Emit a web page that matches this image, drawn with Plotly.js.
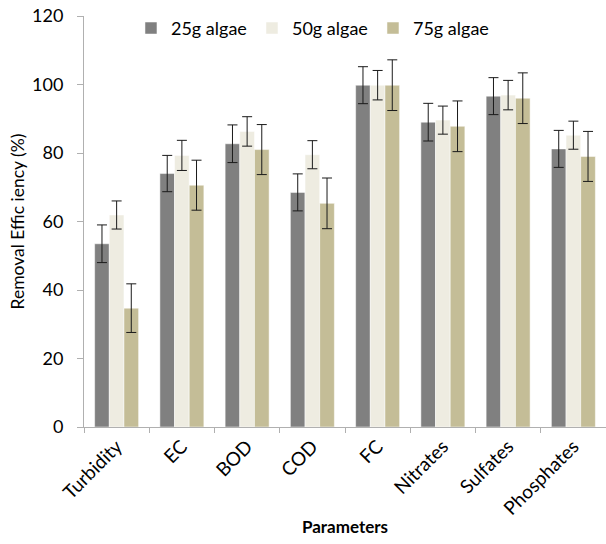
<!DOCTYPE html>
<html>
<head>
<meta charset="utf-8">
<script src="https://cdn.plot.ly/plotly-3.0.1.min.js"></script>
<style>html,body{margin:0;padding:0;background:#fff;}#chart{width:606px;height:544px;}</style>
</head>
<body>
<div id="chart"></div>
<script>
const categories = ["Turbidity", "EC", "BOD", "COD", "FC", "Nitrates", "Sulfates", "Phosphates"];
const seriesNames = ["25g algae", "50g algae", "75g algae"];
const algae25 = [53.5, 74.0, 82.7, 68.5, 99.8, 89.0, 96.6, 81.2];
const algae25Err = [5.5, 5.3, 5.5, 5.4, 5.4, 5.5, 5.4, 5.4];
const algae50 = [61.9, 79.3, 86.3, 79.5, 99.8, 89.6, 96.9, 85.2];
const algae50Err = [4.1, 4.4, 4.3, 4.1, 4.3, 4.1, 4.3, 4.1];
const algae75 = [34.7, 70.6, 81.0, 65.3, 99.8, 87.8, 96.0, 79.0];
const algae75Err = [7.1, 7.3, 7.3, 7.4, 7.4, 7.4, 7.4, 7.3];
const yTicks = [0, 20, 40, 60, 80, 100, 120];

const colors = ["#808080", "#EEECE1", "#C4BD97"];
const vals = [algae25, algae50, algae75];
const errs = [algae25Err, algae50Err, algae75Err];
const font = "Lato, 'Open Sans', sans-serif";

const traces = seriesNames.map((n, i) => ({
  type: "bar",
  name: n,
  x: categories,
  y: vals[i],
  marker: {color: colors[i], line: {color: "#ffffff", width: 0.5}},
  error_y: {type: "data", array: errs[i], visible: true, color: "#1a1a1a", thickness: 1, width: 5}
}));

const layout = {
  width: 606, height: 544,
  margin: {l: 84, r: 0, t: 16, b: 117},
  paper_bgcolor: "#fff", plot_bgcolor: "#fff",
  barmode: "group", bargap: 0.326, bargroupgap: 0,
  font: {family: font, size: 15, color: "#000"},
  showlegend: true,
  legend: {orientation: "h", x: 0.09, y: 1.015, xanchor: "left", yanchor: "top",
    font: {family: font, size: 18, color: "#000"}, entrywidth: 76, entrywidthmode: "pixels",
    bgcolor: "rgba(0,0,0,0)", traceorder: "normal"},
  xaxis: {
    type: "category", showline: true, linecolor: "#b0b0b0", linewidth: 1,
    ticks: "outside", tickson: "boundaries", ticklen: 5, tickcolor: "#b0b0b0",
    tickangle: -45, tickfont: {family: font, size: 19, color: "#000"},
    showgrid: false, zeroline: false,
    title: {text: "<b>Parameters</b>", font: {family: font, size: 17, color: "#000"}, standoff: 2}
  },
  yaxis: {
    range: [0, 120], tickvals: yTicks, showline: true, linecolor: "#b0b0b0", linewidth: 1,
    ticks: "outside", ticklen: 6, tickcolor: "#b0b0b0", ticklabelstandoff: 10,
    tickfont: {family: font, size: 18, color: "#000"},
    showgrid: false, zeroline: false,
    title: {text: "Removal Effic iency (%)", font: {family: font, size: 17.5, color: "#000"}, standoff: 2}
  }
};

Plotly.newPlot("chart", traces, layout, {displayModeBar: false, staticPlot: true});
</script>
</body>
</html>
